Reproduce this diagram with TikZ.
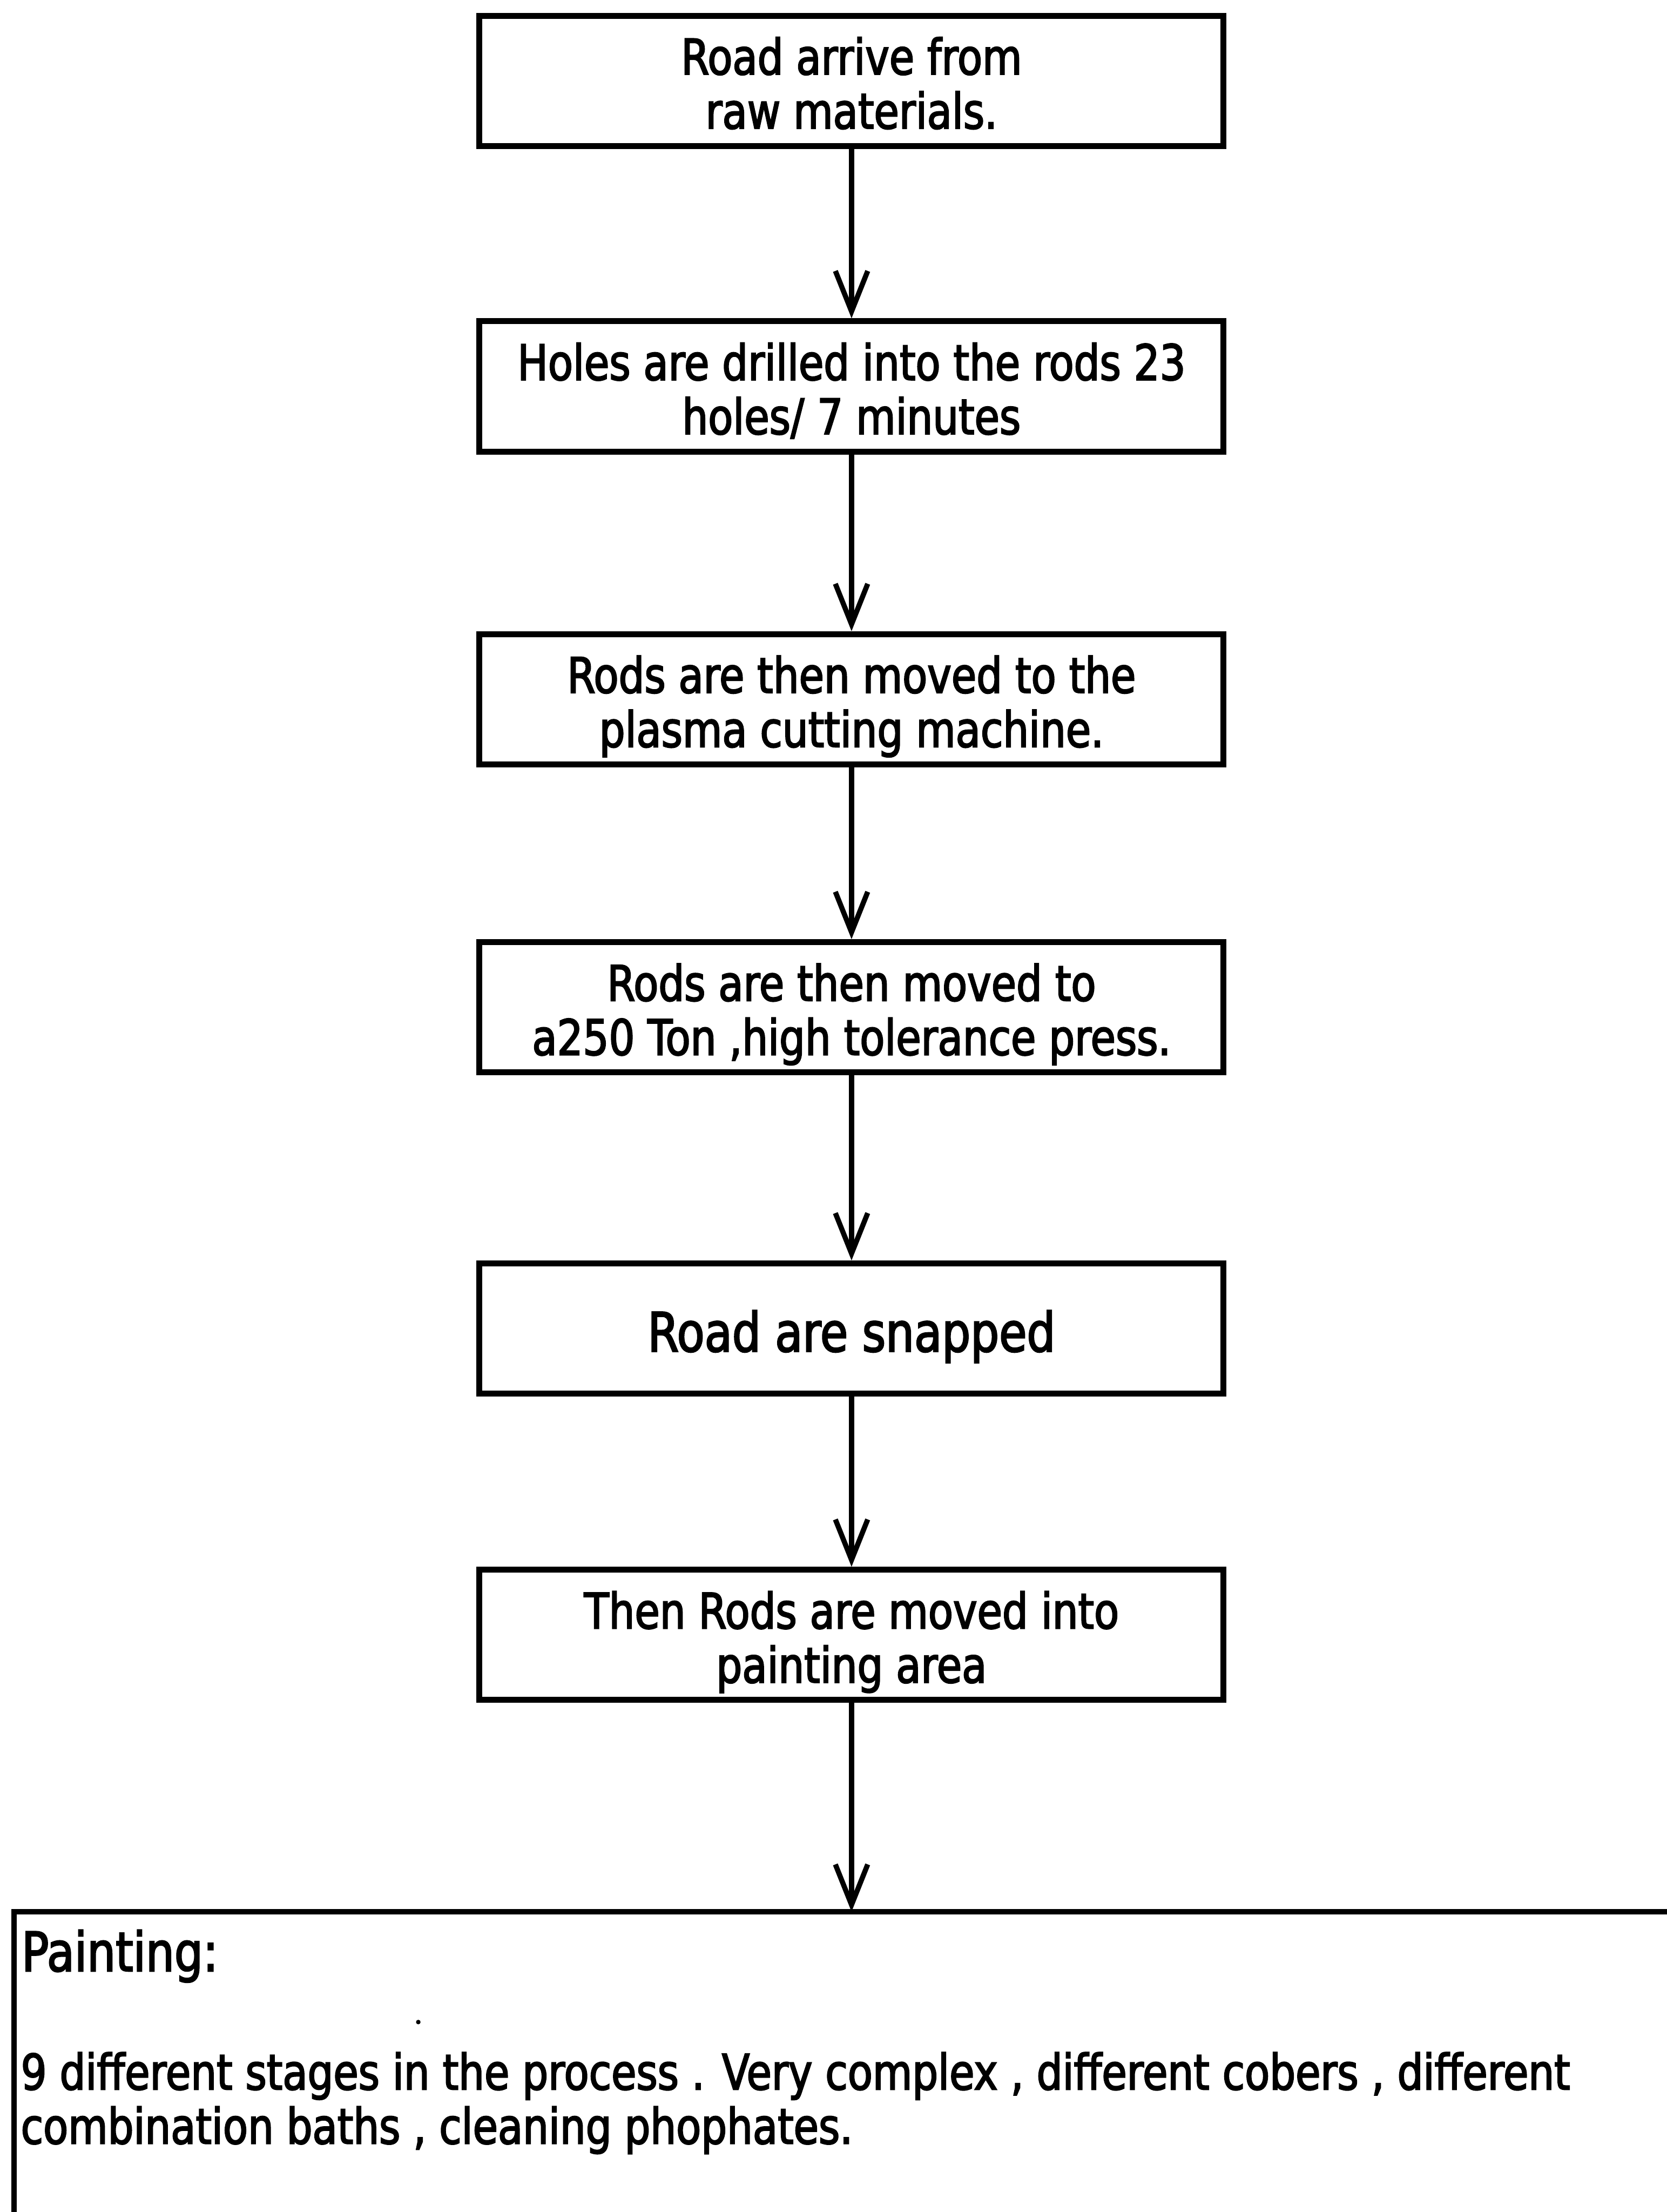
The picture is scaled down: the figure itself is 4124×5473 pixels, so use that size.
\documentclass[tikz,border=0pt]{standalone}
\usepackage{fontspec}
\setmainfont{DejaVu Sans}[FakeStretch=0.83,FakeBold=2.5]
\usetikzlibrary{arrows.meta}
% line struts: fixed height for a first line, fixed depth for a last line
\newcommand\hstrut{\rule{0pt}{38.1pt}}
\newcommand\dstrut{\rule[-9pt]{0pt}{9pt}}
\begin{document}
\begin{tikzpicture}[x=0.01cm,y=-0.01cm,
  boxframe/.style={draw, line width=4.2pt, minimum width=18.40cm,
    minimum height=3.22cm, align=center, inner sep=0pt},
  stepbox/.style={boxframe, font=\fontsize{34.5}{38.1}\selectfont},
  bigbox/.style={boxframe, font=\fontsize{38.2}{42}\selectfont,
    text height=32.4pt, text depth=0pt},
  flow/.style={line width=3.6pt, -{Straight Barb[length=1.0cm,width=0.8cm]}},
  panel/.style={line width=4pt},
  heading/.style={anchor=base west, inner sep=0pt, font=\fontsize{38.2}{42}\selectfont},
  bodytext/.style={anchor=base west, inner sep=0pt, font=\fontsize{34.5}{38.1}\selectfont}]
\useasboundingbox (0,0) rectangle (4124,5473);

% process steps
\node[stepbox] (b1) at (2107,200)  {\hstrut Road arrive from\\raw materials.\dstrut};
\node[stepbox] (b2) at (2107,956)  {\hstrut Holes are drilled into the rods 23\\holes/ 7 minutes\dstrut};
\node[stepbox] (b3) at (2107,1730) {\hstrut Rods are then moved to the\\plasma cutting machine.\dstrut};
\node[stepbox] (b4) at (2107,2492) {\hstrut Rods are then moved to\\a250 Ton ,high tolerance press.\dstrut};
\node[bigbox]  (b5) at (2107,3287) {Road are snapped};
\node[stepbox] (b6) at (2107,4045) {\hstrut Then Rods are moved into\\painting area\dstrut};

% painting panel, open to the right and below
\coordinate (ptl) at (35,4730);
\coordinate (ptop) at (2107,4730);
\draw[panel] (4140,4730) -- (ptl) -- (35,5490);

\node[heading]  (ph) at (53,4877) {Painting:};
\node[bodytext] (p1) at (51,5170) {9 different stages in the process . Very complex , different cobers , different};
\node[bodytext] (p2) at (51,5304) {combination baths , cleaning phophates.};
\fill (1035,5003) circle[radius=1.6pt];

% connectors
\draw[flow] (b1) -- (b2);
\draw[flow] (b2) -- (b3);
\draw[flow] (b3) -- (b4);
\draw[flow] (b4) -- (b5);
\draw[flow] (b5) -- (b6);
\draw[flow] (b6) -- (ptop);
\end{tikzpicture}
\end{document}
